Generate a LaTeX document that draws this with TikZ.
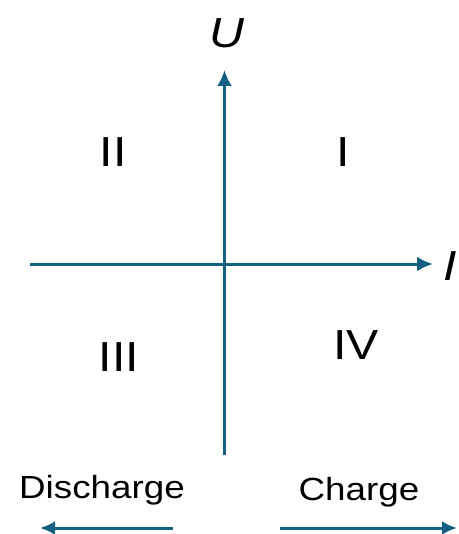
\documentclass[tikz,border=0pt]{standalone}
\usepackage{fontspec}
\setmainfont{Liberation Sans}[FakeStretch=1.15]
\usetikzlibrary{arrows.meta}
\definecolor{axisblue}{HTML}{156082}
\begin{document}
\begin{tikzpicture}[x=1pt,y=-1pt,
  axis/.style={draw=axisblue,line width=3pt,-{Latex[length=16pt,width=15pt]}},
  dirarrow/.style={draw=axisblue,line width=3pt,-{Latex[length=15pt,width=14pt]}},
  quad/.style={inner sep=0pt,font=\fontsize{42}{48}\selectfont},
  axlabel/.style={inner sep=0pt,font=\fontsize{42}{48}\selectfont\itshape},
  dirlabel/.style={inner sep=0pt,anchor=base,font=\fontsize{32}{38}\selectfont}]
\useasboundingbox[fill=white] (0,0) rectangle (458,534);
\coordinate (ybot) at (224.5,455);
\coordinate (ytop) at (224.5,70);
\coordinate (xl) at (30,264);
\coordinate (xr) at (433,264);
\draw[axis] (ybot) -- (ytop);
\draw[axis] (xl) -- (xr);
\node[axlabel] (U) at (227,33) {U};
\node[axlabel,anchor=east] (Ilab) at (457,266) {I};
\node[quad] (q2) at (113,152) {II};
\node[quad] (q1) at (343,152) {I};
\node[quad] (q3) at (119,357) {III};
\node[quad] (q4) at (356,345) {IV};
\node[dirlabel] (dis) at (102,498) {Discharge};
\node[dirlabel] (chg) at (359,500) {Charge};
\coordinate (dA) at (173,528);
\coordinate (dB) at (40,528);
\coordinate (cA) at (280,528);
\coordinate (cB) at (457,528);
\draw[dirarrow] (dA) -- (dB);
\draw[dirarrow] (cA) -- (cB);
\end{tikzpicture}
\end{document}
